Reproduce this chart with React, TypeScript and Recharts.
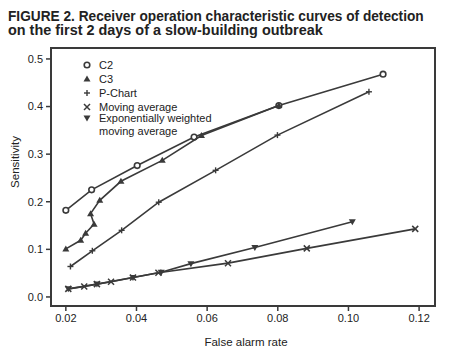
import React, { useLayoutEffect, useRef, useState } from 'react';
import { ScatterChart, Scatter, XAxis, YAxis, ReferenceArea } from 'recharts';

const xTicks = [0.02, 0.04, 0.06, 0.08, 0.1, 0.12];
const yTicks = [0, 0.1, 0.2, 0.3, 0.4, 0.5];

const c2X = [0.02, 0.0273, 0.0402, 0.0563, 0.0803, 0.1098];
const c2Y = [0.182, 0.225, 0.276, 0.336, 0.402, 0.468];

const c3X = [0.02, 0.0242, 0.0256, 0.028, 0.027, 0.0296, 0.0356, 0.0473, 0.0584, 0.0803];
const c3Y = [0.101, 0.119, 0.134, 0.153, 0.175, 0.203, 0.243, 0.287, 0.339, 0.402];

const pX = [0.0213, 0.0275, 0.0358, 0.0463, 0.0624, 0.0799, 0.1058];
const pY = [0.064, 0.097, 0.14, 0.199, 0.266, 0.34, 0.431];

const maX = [0.0207, 0.0252, 0.0288, 0.0328, 0.039, 0.0462, 0.0659, 0.0882, 0.1189];
const maY = [0.017, 0.022, 0.027, 0.032, 0.041, 0.051, 0.071, 0.102, 0.143];

const ewX = [0.0207, 0.0288, 0.039, 0.047, 0.0554, 0.0735, 0.1011];
const ewY = [0.017, 0.027, 0.041, 0.052, 0.07, 0.104, 0.158];

const titleLines = [
  'FIGURE 2. Receiver operation characteristic curves of detection',
  'on the first 2 days of a slow-building outbreak',
];

const INK = '#3a3a3a';
const FONT = '"Liberation Sans", Arial, Helvetica, sans-serif';

const toPoints = (xs: number[], ys: number[]) => xs.map((x, i) => ({ x, y: ys[i] }));

type Kind = 'circle' | 'up' | 'plus' | 'cross' | 'down';

function Marker({ kind, cx, cy }: { kind: Kind; cx: number; cy: number }) {
  switch (kind) {
    case 'circle':
      return <circle cx={cx} cy={cy} r={2.8} fill="#fff" stroke={INK} strokeWidth={1.6} />;
    case 'up':
      return <polygon points={`${cx},${cy - 3.5} ${cx - 3.5},${cy + 2.5} ${cx + 3.5},${cy + 2.5}`} fill={INK} />;
    case 'down':
      return <polygon points={`${cx},${cy + 3.5} ${cx - 3.5},${cy - 2.5} ${cx + 3.5},${cy - 2.5}`} fill={INK} />;
    case 'plus':
      return (
        <g stroke={INK} strokeWidth={1.4}>
          <line x1={cx - 3} y1={cy} x2={cx + 3} y2={cy} />
          <line x1={cx} y1={cy - 3} x2={cx} y2={cy + 3} />
        </g>
      );
    default:
      return (
        <g stroke={INK} strokeWidth={1.5}>
          <line x1={cx - 3} y1={cy - 3} x2={cx + 3} y2={cy + 3} />
          <line x1={cx - 3} y1={cy + 3} x2={cx + 3} y2={cy - 3} />
        </g>
      );
  }
}

const shapeFor = (kind: Kind) => (props: any) => <Marker kind={kind} cx={props.cx} cy={props.cy} />;

const series: { name: string; kind: Kind; data: { x: number; y: number }[] }[] = [
  { name: 'C2', kind: 'circle', data: toPoints(c2X, c2Y) },
  { name: 'C3', kind: 'up', data: toPoints(c3X, c3Y) },
  { name: 'P-Chart', kind: 'plus', data: toPoints(pX, pY) },
  { name: 'Moving average', kind: 'cross', data: toPoints(maX, maY) },
  { name: 'Exponentially weighted moving average', kind: 'down', data: toPoints(ewX, ewY) },
];

// legend text lines: [label, marker kind or null, vertical centre]
const legendLines: [string, Kind | null, number][] = [
  ['C2', 'circle', 65],
  ['C3', 'up', 79.3],
  ['P-Chart', 'plus', 92.7],
  ['Moving average', 'cross', 106.5],
  ['Exponentially weighted', 'down', 117.5],
  ['moving average', null, 131],
];

// squeeze a bold line into the condensed width the printed title uses
function FitText({ x, y, width, text }: { x: number; y: number; width: number; text: string }) {
  const ref = useRef<SVGTextElement>(null);
  const [sx, setSx] = useState(0.8);
  useLayoutEffect(() => {
    const w = ref.current ? ref.current.getComputedTextLength() : 0;
    if (w > 0) setSx(width / w);
  }, [width, text]);
  return (
    <g transform={`translate(${x} ${y}) scale(${sx} 1)`}>
      <text ref={ref} x={0} y={0} fontFamily={FONT} fontWeight="bold" fontSize={15} fill="#222">
        {text}
      </text>
    </g>
  );
}

function LegendBox() {
  return (
    <div style={{ position: 'absolute', left: 0, top: 0, fontFamily: FONT, fontSize: 11, color: '#222' }}>
      {legendLines.map(([label, kind, cy]) => (
        <React.Fragment key={label}>
          {kind && (
            <svg width={10} height={10} style={{ position: 'absolute', left: 82, top: cy - 5 }}>
              <Marker kind={kind} cx={5} cy={5} />
            </svg>
          )}
          <div style={{ position: 'absolute', left: 99, top: cy - 7, lineHeight: '14px', whiteSpace: 'nowrap' }}>{label}</div>
        </React.Fragment>
      ))}
    </div>
  );
}

export default function App() {
  return (
    <div style={{ position: 'absolute', left: 0, top: 0, width: 451, height: 354, background: '#fff' }}>
      <svg width={451} height={46} style={{ position: 'absolute', left: 0, top: 0 }}>
        <FitText x={8} y={20.5} width={416} text={titleLines[0]} />
        <FitText x={8} y={34.5} width={315} text={titleLines[1]} />
      </svg>
      <div style={{ position: 'absolute', left: 0, top: 0 }}>
        <ScatterChart width={451} height={354} margin={{ top: 48, right: 16, left: 11, bottom: 18 }}>
          <XAxis
            type="number"
            dataKey="x"
            domain={[0.0158, 0.1245]}
            ticks={xTicks}
            allowDataOverflow
            tickFormatter={(v: number) => v.toFixed(2)}
            axisLine={false}
            tickLine={{ stroke: INK, strokeWidth: 1.5 }}
            tickSize={5}
            tickMargin={3}
            height={30}
            tick={{ fill: '#222', fontSize: 11, fontFamily: FONT }}
            label={{
              content: () => (
                <text x={246} y={346} textAnchor="middle" fontFamily={FONT} fontSize={11.5} fill="#222">
                  False alarm rate
                </text>
              ),
            }}
          />
          <YAxis
            type="number"
            dataKey="y"
            domain={[-0.019, 0.523]}
            ticks={yTicks}
            allowDataOverflow
            tickFormatter={(v: number) => v.toFixed(1)}
            axisLine={false}
            tickLine={{ stroke: INK, strokeWidth: 1.5 }}
            tickSize={5}
            tickMargin={3}
            width={40}
            tick={{ fill: '#222', fontSize: 11, fontFamily: FONT }}
            label={{
              content: () => (
                <text x={19} y={162} transform="rotate(-90 19 162)" textAnchor="middle" fontFamily={FONT} fontSize={11.5} fill="#222">
                  Sensitivity
                </text>
              ),
            }}
          />
          <ReferenceArea x1={0.0158} x2={0.1245} y1={-0.019} y2={0.523} fill="none" stroke={INK} strokeWidth={2} ifOverflow="visible" />
          {series.map((s) => (
            <Scatter
              key={s.name}
              name={s.name}
              data={s.data}
              line={{ stroke: INK, strokeWidth: 1.6 }}
              lineType="joint"
              shape={shapeFor(s.kind)}
              isAnimationActive={false}
            />
          ))}
        </ScatterChart>
      </div>
      <LegendBox />
    </div>
  );
}
